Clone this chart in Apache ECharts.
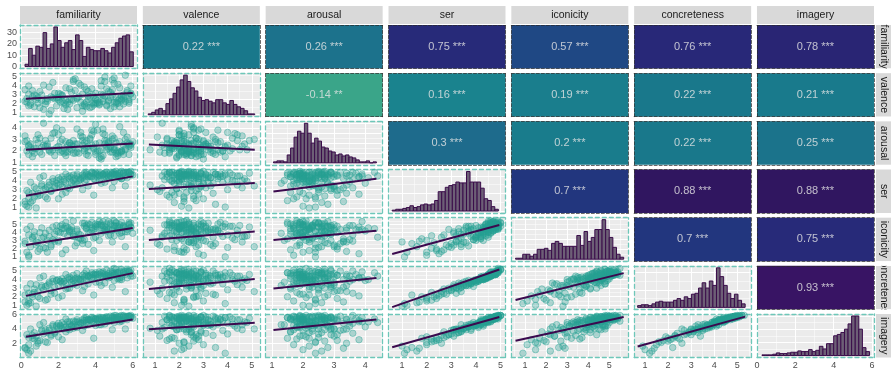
<!DOCTYPE html>
<html>
<head>
<meta charset="utf-8">
<script src="https://cdn.jsdelivr.net/npm/echarts@6/dist/echarts.min.js"></script>
<style>
html, body { margin: 0; padding: 0; background: #fff; }
#chart { width: 893px; height: 373px; }
</style>
</head>
<body>
<div id="chart"></div>
<script>
const vars = ['familiarity', 'valence', 'arousal', 'ser', 'iconicity', 'concreteness', 'imagery'];

// word ratings (one entry per word, same order in every array)
const familiarity = [0.3,0.5,0.4,0.8,1.0,0.6,1.3,0.2,1.6,0.9, 2.0,1.2,0.7,1.8,2.4,1.1,2.6,3.0,1.5,2.2,
  3.4,2.8,4.0,1.9,3.6,2.3,4.5,3.2,5.0,2.7, 4.2,3.8,5.4,2.1,4.8,3.5,5.7,4.4,3.1,5.2,
  1.4,2.9,4.6,3.7,5.9,4.1,5.5,3.3,4.9,2.5, 5.8,4.3,3.9,5.1,2.0,5.6,4.7,3.4,5.3,4.0,
  5.9,2.8,4.5,5.0,3.6,5.7,4.2,1.7,5.4,3.8, 4.8,5.2,3.0,5.8,4.4,2.6,5.5,4.6,3.5,5.1,
  0.5,1.0,0.3,5.6,4.9,1.2,2.2,6.0,3.3,0.4, 4.3,1.5,2.9,5.3,0.8,3.9,2.4,4.7,1.7,5.0,
  2.3,3.1,4.0,1.3,5.6,0.6,3.7,4.9,2.0,5.3, 1.9,4.4,0.9,3.2,5.8,2.7,4.6,1.1,3.9,5.0,
  2.5,4.2,0.2,3.5,5.5,2.1,4.7,1.6,3.4,5.2, 2.8,4.1,0.7,3.6,5.9,2.4,4.3,1.4,3.0,4.8,
  2.6,5.4,1.8,3.8,4.5,2.2,5.1,0.4,3.3,4.0];
const valence = [2.1,1.8,3.0,2.4,1.5,2.7,2.2,3.5,1.2,2.0, 2.6,4.0,1.6,3.1,2.3,2.9,1.9,2.5,3.8,2.2,
  1.7,4.4,2.0,2.6,3.3,1.4,2.8,2.1,4.8,2.4, 1.9,3.6,2.3,3.0,2.6,1.6,3.2,2.2,4.2,2.0,
  2.5,3.4,1.8,2.7,3.9,2.3,2.9,1.7,3.5,2.1, 2.4,4.5,2.0,1.9,3.1,2.7,2.2,3.8,1.6,2.5,
  3.0,2.3,4.9,2.1,2.8,3.4,1.8,2.6,2.4,2.0, 3.2,4.1,1.5,2.2,2.9,2.4,1.9,3.6,2.1,2.6,
  2.0,3.3,2.5,5.1,4.6,1.3,2.8,2.7,1.1,3.9, 3.0,0.8,4.7,2.5,2.8,1.8,3.7,2.3,4.3,1.6,
  2.0,2.7,3.1,1.9,2.2,3.4,1.5,2.9,2.4,3.7, 1.7,2.5,2.6,4.0,2.0,3.2,1.7,2.3,2.8,4.2,
  1.3,2.1,2.2,3.5,2.6,2.1,3.3,2.7,1.9,2.3, 4.6,2.0,2.9,2.4,3.1,1.8,3.9,2.2,2.6,1.4,
  3.6,2.8,2.5,1.6,4.4,2.9,2.1,1.7,3.0,2.4];
const arousal = [2.0,2.6,1.7,2.2,3.1,1.5,2.4,2.8,1.9,3.4, 2.1,2.5,1.8,3.6,1.6,2.3,2.7,1.9,2.0,3.0,
  2.2,2.9,1.7,4.0,2.4,1.8,2.6,3.3,2.1,2.5, 1.4,3.8,2.0,2.8,1.9,2.3,2.7,3.5,2.2,1.6,
  2.6,1.8,2.4,3.1,2.3,2.0,1.7,2.5,3.0,1.9, 2.6,2.1,3.7,1.5,2.4,2.2,2.8,2.0,1.9,4.3,
  2.5,1.8,2.9,2.3,1.6,3.2,2.7,2.1,1.9,3.4, 2.4,2.0,2.6,1.7,3.9,2.2,2.5,2.1,2.9,1.8,
  2.3,1.9,2.9,3.0,3.3,4.4,3.8,2.8,3.2,2.4, 1.3,2.1,2.6,4.1,3.0,2.2,1.9,2.7,3.5,2.1,
  2.2,1.8,2.6,2.9,2.1,2.0,3.0,1.9,3.4,2.8, 2.3,1.6,2.7,3.6,2.4,2.1,2.9,1.7,2.3,3.1,
  2.5,2.0,3.3,1.7,3.6,1.9,2.2,3.1,2.7,1.8, 2.4,3.8,2.2,2.0,2.6,2.8,1.5,2.4,3.9,2.3,
  2.7,2.0,1.6,2.5,3.4,2.0,2.7,2.5,2.9,1.9];
const ser = [1.2,1.6,2.0,1.0,2.4,1.8,2.2,1.4,2.8,2.6, 2.0,3.0,2.2,3.2,2.7,3.4,3.1,3.6,3.8,3.3,
  3.9,3.5,4.0,3.7,3.4,4.1,3.8,4.2,3.9,4.3, 4.0,4.4,4.2,3.6,4.5,4.1,4.3,4.6,4.0,4.4,
  3.3,3.7,4.2,4.5,4.6,4.7,4.8,4.6,4.7,4.4, 4.9,4.5,4.8,4.6,4.3,4.9,4.7,4.5,4.8,4.9,
  5.0,4.6,4.8,4.7,4.4,4.9,4.6,4.2,5.0,4.8, 4.5,4.8,4.7,4.9,4.7,4.5,4.8,4.6,4.9,4.7,
  3.8,4.3,2.9,3.4,3.2,4.5,2.5,4.6,3.0,1.1, 3.7,3.5,4.2,4.3,3.1,2.4,4.7,4.4,3.9,4.9,
  3.9,4.3,4.6,3.1,4.5,2.6,4.4,4.8,3.5,4.4, 4.0,4.7,2.3,4.1,4.8,3.8,4.9,3.6,4.2,4.6,
  3.2,4.5,1.7,4.7,4.9,4.1,4.3,2.9,4.8,4.6, 4.0,4.4,3.3,4.6,4.7,3.7,4.8,2.0,4.5,4.9,
  4.2,4.2,3.4,4.9,4.5,4.4,5.0,2.7,4.3,4.8];
const iconicity = [1.5,2.2,1.1,2.8,1.9,3.2,2.0,2.6,2.4,1.6, 3.0,2.1,3.6,2.9,1.8,3.3,4.1,2.7,3.5,4.5,
  3.1,3.8,3.4,4.2,2.5,3.9,4.4,3.2,3.6,4.7, 3.0,4.3,4.0,4.8,3.7,4.6,4.1,4.9,3.3,4.5,
  3.0,2.3,4.2,4.0,4.7,5.0,4.8,5.2,4.3,4.6, 5.1,4.9,4.4,5.3,4.1,4.6,5.4,4.8,5.0,4.5,
  5.2,5.5,4.7,4.9,5.1,4.4,5.0,4.7,5.3,4.6, 5.2,4.8,4.2,5.0,5.4,4.4,4.7,5.1,4.9,5.2,
  4.8,4.0,4.4,2.2,2.8,3.4,1.3,3.9,2.6,0.9, 3.9,4.3,3.5,4.6,2.4,1.7,5.3,3.6,3.1,5.5,
  4.5,3.8,4.8,3.9,4.1,3.4,5.0,4.4,2.8,3.9, 4.9,4.2,2.7,3.7,5.3,4.3,4.6,4.6,3.3,4.8,
  3.6,5.4,2.9,4.5,4.9,4.0,4.4,2.2,5.2,4.3, 3.5,4.7,4.1,4.0,4.6,4.8,5.1,1.5,4.4,5.0,
  4.2,3.5,3.8,5.3,4.3,5.0,4.8,3.7,3.0,5.1];
const concreteness = [1.0,1.3,1.5,0.9,1.8,2.0,1.6,2.2,2.3,2.6, 1.9,2.8,2.5,2.4,2.9,3.1,3.0,3.3,3.5,3.6,
  3.2,3.4,3.7,3.9,3.5,3.8,3.6,4.0,3.9,4.1, 3.7,4.2,4.0,3.8,4.3,3.9,4.2,4.4,4.0,4.1,
  3.3,3.6,4.3,4.5,4.4,4.6,4.8,4.5,4.7,4.2, 4.9,4.4,4.6,4.8,4.0,5.0,4.7,4.3,4.9,4.8,
  5.1,4.5,4.6,4.7,4.4,5.0,4.9,4.1,5.2,4.6, 4.5,4.8,4.7,5.1,4.9,4.3,4.8,4.5,5.0,4.6,
  3.5,4.2,3.0,2.6,3.1,4.4,2.1,4.4,2.7,1.2, 3.3,3.7,4.1,4.0,3.4,2.2,4.6,4.2,3.8,5.3,
  3.8,4.1,4.5,3.2,4.6,2.3,4.3,4.9,3.3,4.2, 3.9,4.7,2.0,4.0,4.9,3.7,5.1,3.3,4.1,4.5,
  3.0,4.6,1.4,4.5,5.0,3.8,4.4,2.7,4.7,4.8, 3.9,4.2,2.9,4.4,4.7,3.5,4.8,1.7,4.2,5.0,
  4.0,4.3,3.1,4.8,4.4,4.1,5.2,2.4,4.0,4.6];
const imagery = [1.1,0.9,1.8,1.6,2.4,2.7,2.2,1.4,3.0,2.0, 2.9,3.3,2.6,3.4,3.6,3.7,3.9,4.2,3.8,4.0,
  4.4,4.1,4.5,4.3,4.6,4.2,4.7,4.8,4.9,4.4, 4.6,5.0,5.1,4.5,5.2,4.9,5.3,5.0,4.7,5.4,
  3.5,4.3,5.1,5.2,5.6,5.4,5.7,5.3,5.5,5.0, 5.8,5.3,5.5,5.6,4.8,5.7,5.6,5.2,5.8,5.4,
  5.9,5.1,5.5,5.6,5.3,5.8,5.5,4.6,5.9,5.4, 5.2,5.7,5.3,5.8,5.6,5.0,5.7,5.5,5.6,5.4,
  4.0,4.6,3.2,4.0,3.9,4.9,2.5,5.5,3.8,0.6, 4.6,4.1,5.0,5.0,3.0,2.7,5.4,5.2,4.4,5.9,
  4.6,5.0,5.4,3.9,5.6,3.1,5.3,5.7,4.0,5.3, 4.5,5.5,2.3,4.8,5.8,4.5,5.7,3.9,5.0,5.4,
  4.0,5.4,1.3,5.3,5.9,4.4,5.1,3.2,5.5,5.6, 4.6,5.2,3.5,5.3,5.7,4.3,5.6,2.1,5.0,5.8,
  4.7,5.3,3.6,5.6,5.3,4.9,5.9,2.8,4.9,5.5];
const columns = [familiarity, valence, arousal, ser, iconicity, concreteness, imagery];

// histogram counts (30 bins per variable) and bin span
const familiarityCounts = [2,16,10,18,17,30,16,20,35,23,17,21,23,15,28,23,9,17,15,14,14,16,14,12,17,21,25,27,28,13];
const valenceCounts = [1,3,6,8,5,14,20,27,35,44,50,42,34,30,22,18,19,17,15,19,19,15,13,18,13,10,8,5,1,1];
const arousalCounts = [1,2,2,1,8,15,26,32,30,40,30,20,25,22,16,15,12,11,8,9,7,8,6,5,3,1,1,2,0,1];
const serCounts = [1,2,2,3,4,6,4,5,7,8,7,8,12,22,22,27,29,30,33,32,32,45,33,33,33,26,14,12,5,2];
const iconicityCounts = [1,1,5,5,3,5,10,10,11,9,16,18,16,13,13,13,13,24,14,28,18,22,30,30,40,30,22,12,5,2];
const concretenessCounts = [2,3,3,2,4,6,7,6,6,6,8,10,8,12,10,15,16,22,28,22,30,25,45,35,25,16,10,15,8,4];
const imageryCounts = [1,1,1,2,4,3,3,4,5,5,7,6,6,9,6,8,14,10,18,18,30,32,35,40,48,60,60,40,12,6];
const histCounts = [familiarityCounts, valenceCounts, arousalCounts, serCounts, iconicityCounts, concretenessCounts, imageryCounts];
const histFrom = [0.2, 0.72, 1.05, 0.6, 0.55, 0.68, 0.26];
const histTo = [6.03, 5.12, 4.36, 4.91, 5.68, 5.34, 5.87];

// axis limits and ticks per variable
const axisMin = [-0.07, 0.5, 0.8, 0.45, 0.35, 0.53, 0];
const axisMax = [6.23, 5.33, 4.56, 5.2, 5.9, 5.6, 6.1];
const majorTicks = [[0,2,4,6],[1,2,3,4,5],[1,2,3,4],[1,2,3,4,5],[1,2,3,4,5],[1,2,3,4,5],[0,2,4,6]];
const xLabelTicks = [[0,2,4,6],[1,2,3,4,5],[1,2,3,4],[1,2,3,4,5],[1,2,3,4,5],[1,2,3,4,5],[0,2,4,6]];
const yLabelTicks = [[0,10,20,30],[1,2,3,4,5],[1,2,3,4],[1,2,3,4,5],[1,2,3,4,5],[1,2,3,4,5],[2,4,6]];

// fitted lines in the lower panels (row by row), x span per column variable
const lineXFrom = [0.25, 0.75, 1.05, 0.6, 0.55, 0.68];
const lineXTo = [6.0, 5.12, 4.36, 4.95, 5.68, 5.34];
const lineYFrom = [2.49, 2.11, 2.56, 2.34, 3.08, 2.8, 2.42, 3.06, 3.06, 1.26, 2.1, 2.91, 2.96, 0.79, 1.61, 2.9, 3.95, 3.86, 1.45, 2.35, 1.55];
const lineYTo = [3.13, 2.65, 2.11, 4.45, 3.74, 4.18, 4.57, 4.14, 4.23, 4.96, 4.75, 4.07, 4.19, 5.17, 4.75, 5.32, 4.87, 5.32, 5.68, 5.68, 5.73];

// correlations in the upper panels (row by row)
const corrR = [0.22, 0.26, 0.75, 0.57, 0.76, 0.78, -0.14, 0.16, 0.19, 0.22, 0.21, 0.3, 0.2, 0.22, 0.25, 0.7, 0.88, 0.88, 0.7, 0.75, 0.93];
const corrStars = ['***','***','***','***','***','***','**','***','***','***','***','***','***','***','***','***','***','***','***','***','***'];

const FONT = 'Liberation Sans, Arial, sans-serif';
const X0 = 20, Y0 = 25, DX = 122.83, DY = 48.17, W = 117, H = 43.5;

const tileStops = [[-0.14,[58,165,137]],[0.16,[26,131,142]],[0.22,[25,120,139]],[0.3,[30,107,140]],
  [0.57,[31,72,132]],[0.7,[34,54,126]],[0.76,[40,40,120]],[0.88,[48,22,96]],[0.93,[56,20,100]]];
function tileColor(r) {
  if (r <= tileStops[0][0]) return 'rgb(' + tileStops[0][1].join(',') + ')';
  for (let k = 1; k < tileStops.length; k++) {
    const [r1, c1] = tileStops[k];
    const [r0, c0] = tileStops[k - 1];
    if (r <= r1) {
      const t = (r - r0) / (r1 - r0);
      return 'rgb(' + c0.map((c, n) => Math.round(c + (c1[n] - c) * t)).join(',') + ')';
    }
  }
  return 'rgb(' + tileStops[tileStops.length - 1][1].join(',') + ')';
}

function minorOf(major, min, max) {
  const step = major[1] - major[0];
  const out = [major[0] - step / 2].concat(major.map(v => v + step / 2));
  return out.filter(v => v > min && v < max);
}
function niceStep(m) {
  for (const s of [1, 2, 5, 10, 20, 25, 50, 100]) if (s >= m / 4) return s;
  return 100;
}

const grids = [], xAxes = [], yAxes = [], series = [];
const lowerLine = { color: '#6ec7b9', width: 1.3, type: [4, 3] };
const upperLine = { color: '#2a2a2a', width: 0.7, type: [3, 2] };
const labelStyle = { margin: 3, color: '#4d4d4d', fontSize: 9, fontFamily: FONT, hideOverlap: false, showMinLabel: true, showMaxLabel: true };

function addAxis(list, g, pos, min, max, ticks, labels, showLabel, line, gridOn, primary) {
  list.push({
    type: 'value', gridIndex: g, position: pos, min: min, max: max,
    axisLine: { show: true, onZero: false, lineStyle: line },
    axisTick: { show: false, customValues: ticks },
    axisLabel: Object.assign({ show: showLabel, customValues: labels }, labelStyle),
    splitLine: { show: gridOn, lineStyle: { color: '#ffffff', width: primary ? 1 : 0.5 } }
  });
  return list.length - 1;
}
// crowded left labels: every other one goes on a second, line-less axis so none get dropped
function addLeftLabels(g, min, max, labels) {
  const a = addAxis(yAxes, g, 'left', min, max, labels, labels.filter((v, k) => k % 2 === 0), true, lowerLine, true, true);
  yAxes.push({
    type: 'value', gridIndex: g, position: 'left', offset: 0, min: min, max: max,
    axisLine: { show: false }, axisTick: { show: false }, splitLine: { show: false },
    axisLabel: Object.assign({ show: true, customValues: labels.filter((v, k) => k % 2 === 1) }, labelStyle)
  });
  return a;
}

let lowerIdx = 0, upperIdx = 0;
for (let i = 0; i < 7; i++) {
  for (let j = 0; j < 7; j++) {
    const g = i * 7 + j;
    const upper = i < j, diag = i === j;
    let bg = '#ebebeb';
    if (upper) bg = tileColor(corrR[upperIdx]);
    grids.push({ left: X0 + j * DX, top: Y0 + i * DY, width: W, height: H, show: true, backgroundColor: bg, borderWidth: 0 });

    if (upper) {
      const xa = addAxis(xAxes, g, 'bottom', 0, 1, undefined, undefined, false, upperLine, false, true);
      addAxis(xAxes, g, 'top', 0, 1, undefined, undefined, false, upperLine, false, false);
      const ya = addAxis(yAxes, g, 'left', 0, 1, undefined, undefined, false, upperLine, false, true);
      addAxis(yAxes, g, 'right', 0, 1, undefined, undefined, false, upperLine, false, false);
      const r = corrR[upperIdx], stars = corrStars[upperIdx];
      series.push({
        type: 'scatter', xAxisIndex: xa, yAxisIndex: ya, silent: true,
        data: [[0.5, 0.5]], symbolSize: 1, itemStyle: { color: 'rgba(0,0,0,0)' },
        label: { show: true, position: 'inside', formatter: String(r) + ' ' + stars, color: '#e6e6e6', fontSize: 11, fontFamily: FONT }
      });
      upperIdx++;
      continue;
    }

    // x axis: column variable
    const xmaj = majorTicks[j];
    const xa = addAxis(xAxes, g, 'bottom', axisMin[j], axisMax[j], xmaj, xLabelTicks[j], i === 6, lowerLine, true, true);
    addAxis(xAxes, g, 'top', axisMin[j], axisMax[j], minorOf(xmaj, axisMin[j], axisMax[j]), undefined, false, lowerLine, true, false);

    let ya;
    if (diag) {
      const counts = histCounts[i];
      const top = Math.max.apply(null, counts);
      const step = niceStep(top);
      const ymin = -0.05 * top, ymax = 1.05 * top;
      const cmaj = [];
      for (let v = 0; v <= ymax; v += step) cmaj.push(v);
      ya = j === 0 ? addLeftLabels(g, ymin, ymax, yLabelTicks[0])
                   : addAxis(yAxes, g, 'left', ymin, ymax, cmaj, undefined, false, lowerLine, true, true);
      addAxis(yAxes, g, 'right', ymin, ymax, minorOf(cmaj, ymin, ymax), undefined, false, lowerLine, true, false);
      const bw = (histTo[i] - histFrom[i]) / counts.length;
      series.push({
        type: 'custom', xAxisIndex: xa, yAxisIndex: ya, silent: true,
        data: counts.map((c, b) => [histFrom[i] + b * bw, histFrom[i] + (b + 1) * bw, c]),
        encode: { x: [0, 1], y: 2 },
        renderItem: function (params, api) {
          const p0 = api.coord([api.value(0), api.value(2)]);
          const p1 = api.coord([api.value(1), 0]);
          return {
            type: 'rect',
            shape: { x: p0[0], y: p0[1], width: p1[0] - p0[0], height: p1[1] - p0[1] },
            style: { fill: '#6d5f76', stroke: '#3a0c4a', lineWidth: 1 }
          };
        }
      });
    } else {
      const ymaj = majorTicks[i];
      ya = j === 0 ? addLeftLabels(g, axisMin[i], axisMax[i], yLabelTicks[i])
                   : addAxis(yAxes, g, 'left', axisMin[i], axisMax[i], ymaj, undefined, false, lowerLine, true, true);
      // the label axis uses the labels as ticks; for imagery add the 0 grid line too
      if (j === 0) yAxes[ya].axisTick.customValues = ymaj;
      addAxis(yAxes, g, 'right', axisMin[i], axisMax[i], minorOf(ymaj, axisMin[i], axisMax[i]), undefined, false, lowerLine, true, false);
      const xs = columns[j], ys = columns[i];
      series.push({
        type: 'scatter', xAxisIndex: xa, yAxisIndex: ya, silent: true,
        data: xs.map((v, k) => [v, ys[k]]), symbolSize: 6.5,
        itemStyle: { color: 'rgba(38,160,146,0.4)', borderColor: 'rgba(38,160,146,0.75)', borderWidth: 0.7 }
      });
      series.push({
        type: 'line', xAxisIndex: xa, yAxisIndex: ya, silent: true, z: 3,
        data: [[lineXFrom[j], lineYFrom[lowerIdx]], [lineXTo[j], lineYTo[lowerIdx]]],
        symbol: 'none', lineStyle: { color: '#3b0a4e', width: 2 }
      });
      lowerIdx++;
    }
  }
}

// facet strips
const graphic = [];
vars.forEach((name, j) => {
  const x = X0 + j * DX;
  graphic.push({ type: 'rect', z: 10, shape: { x: x, y: 6, width: W, height: 18 }, style: { fill: '#d9d9d9' } });
  graphic.push({ type: 'text', z: 11, x: x + W / 2, y: 15.5,
    style: { text: name, fill: '#1a1a1a', font: '10.5px ' + FONT, align: 'center', verticalAlign: 'middle' } });
});
const SX = 876, SW = 15;
vars.forEach((name, i) => {
  const y = Y0 + i * DY;
  const long = name.length > 9; // longer than the strip: kept under neighbours so it is cut off
  graphic.push({ type: 'rect', z: long ? 4 : 10, shape: { x: SX, y: y, width: SW, height: H }, style: { fill: '#d9d9d9' } });
  graphic.push({ type: 'text', z: long ? 5 : 11, x: SX + SW / 2, y: y + H / 2, rotation: -Math.PI / 2,
    style: { text: name, fill: '#1a1a1a', font: '10.5px ' + FONT, align: 'center', verticalAlign: 'middle' } });
  if (i < 6) {
    graphic.push({ type: 'rect', z: 10, shape: { x: SX, y: y + H, width: SW, height: DY - H }, style: { fill: '#ffffff' } });
  }
});

const chart = echarts.init(document.getElementById('chart'));
chart.setOption({
  animation: false,
  grid: grids,
  xAxis: xAxes,
  yAxis: yAxes,
  series: series,
  graphic: graphic
});
</script>
</body>
</html>
